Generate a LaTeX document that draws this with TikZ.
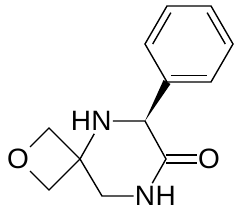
\documentclass[tikz,border=0pt]{standalone}
\usepackage{fontspec}
\setmainfont{Liberation Sans}
\usetikzlibrary{calc}
\begin{document}
\begin{tikzpicture}[x=1pt,y=-1pt,
  bond/.style={line width=1.4pt},
  atom/.style={font=\fontsize{28}{28}\selectfont, inner xsep=1pt, inner ysep=3pt},
  hlabel/.style={font=\fontsize{28}{28}\selectfont, inner sep=0pt}]
\path[use as bounding box] (0,0) rectangle (240,213);
% carbon positions
\coordinate (Ctop) at (49,128);
\coordinate (Cbot) at (49,190);
\coordinate (Sp) at (80,159);
\coordinate (Cst) at (145,121);
\coordinate (Cc) at (166,159);
\coordinate (CH2) at (102,196);
\coordinate (ipso) at (167,82);
\coordinate (br) at (211,82);
\coordinate (r) at (233,44);
\coordinate (tr) at (211,6);
\coordinate (tl) at (167,6);
\coordinate (l) at (145,44);
\coordinate (cen) at (189,44);
% heteroatoms
\node[atom] (Oox) at (18,159) {O};
\node[atom] (N1) at (101.5,121) {N};
\node[hlabel, anchor=base east, xshift=1pt] (H1) at (N1.base west) {H};
\node[atom] (N2) at (145,196) {N};
\node[hlabel, anchor=base west, xshift=-1pt] (H2) at (N2.base east) {H};
\node[atom] (Oc) at (209,159) {O};
% oxetane
\draw[bond] (Oox) -- (Ctop) -- (Sp) -- (Cbot) -- (Oox);
% piperazinone ring
\draw[bond] (Sp) -- (N1);
\draw[bond] (N1) -- (Cst) -- (Cc) -- (N2);
\draw[bond] (Sp) -- (CH2) -- (N2);
% carbonyl
\draw[bond] ([yshift=4pt]Cc) -- ([yshift=4pt]Oc.west);
\draw[bond] ([yshift=-4pt]Cc) -- ([yshift=-4pt]Oc.west);
% wedge
\fill (Cst) -- ($(ipso)!4pt!90:(Cst)$) -- ($(ipso)!4pt!-90:(Cst)$) -- cycle;
% benzene
\draw[bond] (ipso) -- (br) -- (r) -- (tr) -- (tl) -- (l) -- cycle;
\draw[bond] ($(ipso)!0.175!(cen)$) -- ($(br)!0.175!(cen)$);
\draw[bond] ($(r)!0.175!(cen)$) -- ($(tr)!0.175!(cen)$);
\draw[bond] ($(tl)!0.175!(cen)$) -- ($(l)!0.175!(cen)$);
\end{tikzpicture}
\end{document}
